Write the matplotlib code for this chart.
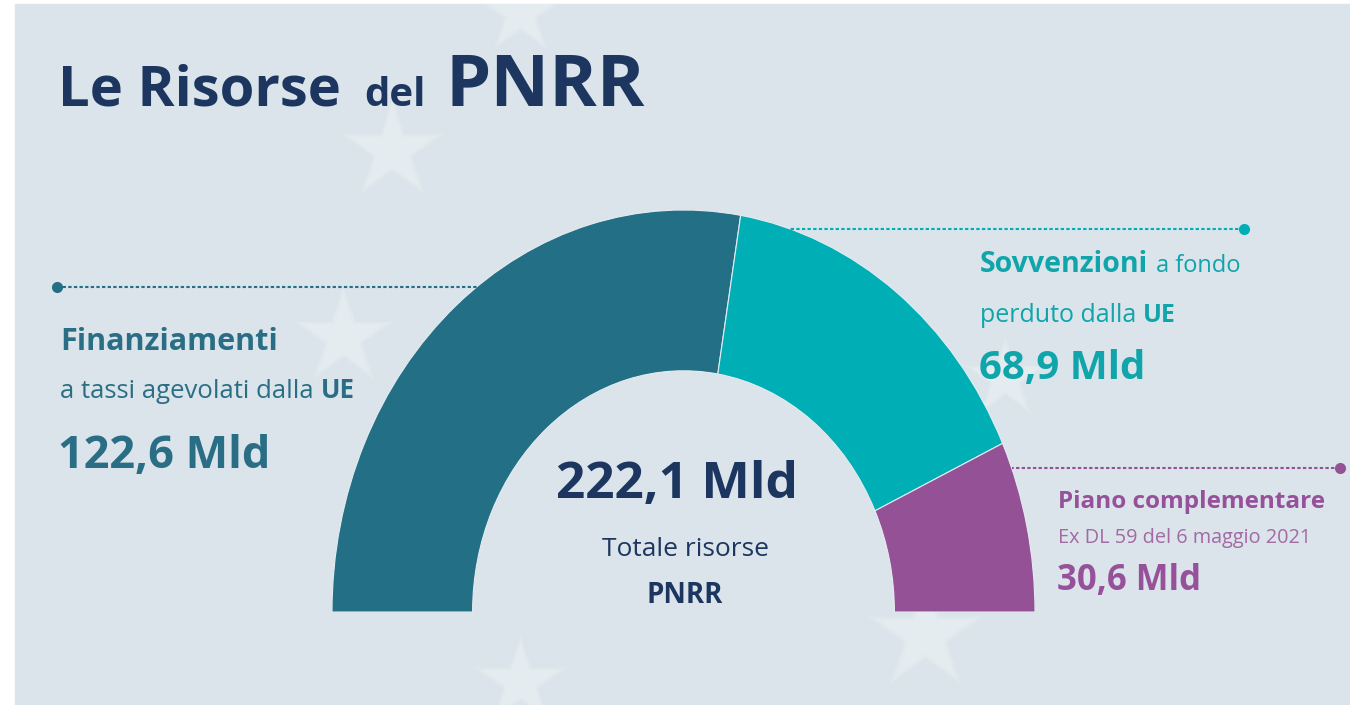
import numpy as np
import matplotlib.pyplot as plt
from matplotlib.patches import Wedge, Rectangle

# Data
values = [122.6, 68.9, 30.6]
value_labels = ['122,6 Mld', '68,9 Mld', '30,6 Mld']
total_label = '222,1 Mld'
colors = ['#236f86', '#00aeb6', '#955196']
text_colors = ['#2a6e85', '#0fa5aa', '#97519a']
navy = '#1c3660'
bg = '#dae4ea'

plt.rcParams['font.family'] = ['Open Sans', 'DejaVu Sans']

W, H = 1350, 705
fig = plt.figure(figsize=(W / 100, H / 100), dpi=100)
fig.patch.set_facecolor('white')

# background + faint blurred stars of the flag
bax = fig.add_axes([0, 0, 1, 1])
bax.set_xlim(0, W)
bax.set_ylim(H, 0)
bax.axis('off')
bax.add_patch(Rectangle((15, 4), W - 15, H - 4, color=bg, zorder=0))
for sx, sy, sz in [(392, 150, 70), (343, 337, 68), (925, 635, 78), (520, 682, 62), (520, 12, 60), (1005, 378, 55)]:
    for k in (1.12, 1.0, 0.88):
        bax.plot(sx, sy, marker='*', ms=sz * k, color='white', alpha=0.13, mec='none', zorder=1)

# donut (half, stretched vertically)
ax = fig.add_axes([332 / W, (H - 612) / H, 703 / W, 402 / H])
ax.set_xlim(-1, 1)
ax.set_ylim(0, 1)
ax.axis('off')
total = sum(values)
ang = 180.0
for v, c in zip(values, colors):
    span = v / total * 180
    ax.add_patch(Wedge((0, 0), 1, ang - span, ang, width=0.4, facecolor=c,
                       edgecolor='#e4ecf0', lw=0.8))
    ang -= span

# overlay for text, pixel coordinates
tax = fig.add_axes([0, 0, 1, 1])
tax.set_xlim(0, W)
tax.set_ylim(H, 0)
tax.axis('off')
tax.patch.set_alpha(0)
renderer = fig.canvas.get_renderer()


def runs(x, y, parts, color, gap=0.28):
    # write bold / regular pieces one after another on a baseline
    for s, size, weight in parts:
        t = tax.text(x, y, s, fontsize=size, fontweight=weight, color=color,
                     va='baseline', ha='left')
        bb = t.get_window_extent(renderer=renderer)
        x += bb.width + gap * size * 100 / 72


def arc_x(y, side):
    # where the outer edge of the donut crosses the row y (pixels)
    cx, rx, y0, ry = 683.5, 351.5, 612, 402
    return cx + side * rx * np.sqrt(max(0, 1 - ((y0 - y) / ry) ** 2))


def leader(y, dot_x, side, c):
    x0 = arc_x(y, side)
    tax.plot([dot_x, x0], [y, y], color=c, lw=1.5, ls=(0, (1.6, 1.1)))
    tax.plot(dot_x, y, 'o', ms=8, color=c, mec='none')


# title
tax.text(58, 106, 'Le Risorse', fontsize=40.5, fontweight='bold', color=navy, va='baseline')
tax.text(364, 106, 'del', fontsize=29, fontweight='bold', color=navy, va='baseline')
tax.text(446, 106, 'PNRR', fontsize=52, fontweight='bold', color=navy, va='baseline')

# left block
leader(287, 57, -1, colors[0])
runs(60, 350, [('Finanziamenti', 22, 'bold')], text_colors[0])
runs(60, 398, [('a tassi agevolati dalla', 18.5, 'normal'), ('UE', 18.5, 'bold')], text_colors[0])
runs(58, 468, [(value_labels[0], 32.5, 'bold')], text_colors[0])

# right top block
leader(229, 1244, 1, colors[1])
runs(980, 272, [('Sovvenzioni', 20.5, 'bold'), ('a fondo', 17, 'normal')], text_colors[1])
runs(980, 322, [('perduto dalla', 18, 'normal'), ('UE', 18, 'bold')], text_colors[1])
runs(979, 379, [(value_labels[1], 29, 'bold')], text_colors[1])

# right bottom block
leader(468, 1340, 1, colors[2])
runs(1058, 508, [('Piano complementare', 17.5, 'bold')], text_colors[2])
runs(1058, 543, [('Ex DL 59 del 6 maggio 2021', 14.3, 'normal')], '#a36aa3')
runs(1057, 590, [(value_labels[2], 25, 'bold')], text_colors[2])

# centre
tax.text(677, 498, total_label, fontsize=37, fontweight='bold', color=navy, ha='center', va='baseline')
tax.text(686, 556, 'Totale risorse', fontsize=19, color=navy, ha='center', va='baseline')
tax.text(685, 603, 'PNRR', fontsize=20, fontweight='bold', color=navy, ha='center', va='baseline')

plt.savefig('out.png', dpi=100, facecolor=fig.get_facecolor())
